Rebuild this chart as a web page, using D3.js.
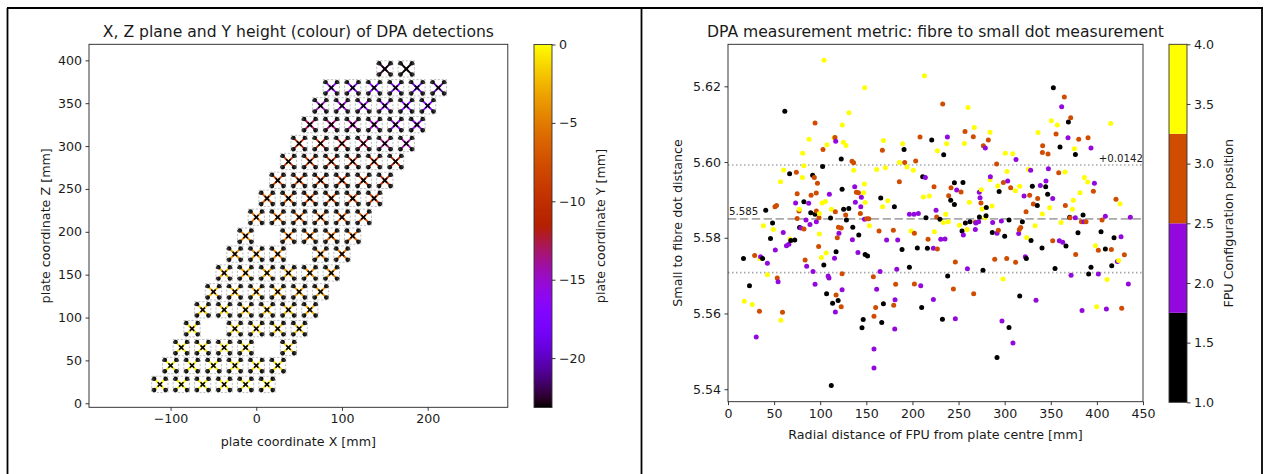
<!DOCTYPE html>
<html><head><meta charset="utf-8">
<script src="https://cdn.jsdelivr.net/npm/d3@7"></script>
<style>
body{margin:0;background:#fff}
text{font-family:"DejaVu Sans",sans-serif;fill:#1a1a1a}
</style>
</head><body><svg id="c" width="1265" height="474"></svg>
<script>
// ---------------- DATA ----------------
// Left panel: FPU centres on the plate (rows of a hex grid), X [mm] per row, Z [mm] per row, Y height [mm]
const fpuRowZ = [22, 44, 65, 87, 109, 130, 152, 174, 195, 217, 239, 260, 282, 303, 325, 347, 368, 390];
const fpuRowX = [
  [-112.5,-87.5,-62.5,-37.5,-12.5,12.5],
  [-100,-75,-50,-25,0,25],
  [-87.5,-62.5,-37.5,-12.5,37.5],
  [-75,-25,0,25,50],
  [-62.5,-37.5,-12.5,12.5,37.5,62.5],
  [-50,-25,0,25,50,75],
  [-37.5,-12.5,12.5,37.5,62.5,87.5],
  [-25,0,25,75,100],
  [-12.5,37.5,62.5,87.5,112.5],
  [0,25,50,75,100,125],
  [12.5,37.5,62.5,87.5,112.5,137.5],
  [25,50,75,100,125,150],
  [37.5,62.5,87.5,112.5,137.5,162.5],
  [50,75,100,125,150,175],
  [62.5,87.5,112.5,137.5,162.5,187.5],
  [75,100,125,150,175,200],
  [87.5,112.5,137.5,162.5,187.5,212.5],
  [150,175]
];
const fpuRowY = [
  [-0.3,-0.4,-0.5,-0.6,-0.7,-0.8],
  [-0.5,-0.6,-0.7,-0.8,-1.0,-1.1],
  [-0.9,-1.0,-1.1,-1.3,-1.6],
  [-1.3,-1.6,-1.8,-2.0,-2.2],
  [-1.8,-2.0,-2.2,-2.4,-2.7,-2.9],
  [-2.4,-2.6,-2.9,-3.1,-3.4,-3.7],
  [-3.1,-3.3,-3.6,-3.9,-4.2,-4.5],
  [-3.9,-4.2,-4.5,-5.1,-5.5],
  [-4.8,-5.4,-5.8,-6.1,-6.5],
  [-5.8,-6.1,-6.5,-6.9,-7.3,-7.7],
  [-6.8,-7.2,-7.6,-8.0,-8.4,-8.9],
  [-8.0,-8.4,-8.8,-9.3,-9.8,-10.3],
  [-9.0,-9.4,-9.9,-10.4,-11.0,-11.6],
  [-11.0,-11.5,-12.0,-12.7,-13.5,-14.3],
  [-13.0,-13.5,-14.0,-14.6,-15.2,-15.8],
  [-14.6,-15.1,-15.7,-16.3,-16.9,-17.5],
  [-16.0,-16.7,-17.4,-18.1,-18.9,-20.5],
  [-22.5,-23.1]
];
const leftXTicks = [-100, 0, 100, 200];
const leftYTicks = [0, 50, 100, 150, 200, 250, 300, 350, 400];
const leftCbTicks = [0, -5, -10, -15, -20];
const leftCbRange = [-23.15, 0];

// Right panel: [radial distance mm, small-to-fibre dot distance] per FPU configuration position
const config1Points = [[16.8,5.5745],[23.3,5.5673],[37.5,5.5745],[40.9,5.5873],[46.1,5.5798],[48.3,5.5839],[61.6,5.6134],[66.8,5.5969],[68.1,5.5793],[72.4,5.5794],[77.6,5.5827],[82.3,5.5895],[89.7,5.5866],[91.8,5.5965],[94.4,5.5862],
[102.6,5.5988],[103.9,5.5728],[106.9,5.5652],[111.2,5.5852],[112,5.541],[113.4,5.5627],[117.2,5.5763],[119.4,5.5634],[122.8,5.6008],[123.7,5.5928],[125.4,5.5875],[128.4,5.5847],[131,5.5877],[135.3,5.5828],[141.8,5.5807],[145.3,5.5562],[146.6,5.5584],[148.7,5.5756],[151.3,5.5752],[165.6,5.5905],[166.7,5.5576],[168.5,5.5626],[180.4,5.5882],[188.7,5.5769],[190.9,5.6033],[196.7,5.5722],
[205.3,5.5773],[210,5.5616],[211.1,5.5961],[214.7,5.5853],[216.2,5.5772],[220.9,5.6058],[229.9,5.5849],[232.5,5.5585],[233.9,5.6019],[238.2,5.5699],[241.5,5.5899],[245.5,5.5945],[245.5,5.5888],[253.8,5.5818],[254.8,5.5946],[257.4,5.5839],[262.4,5.5842],[272.6,5.5855],[276.5,5.5714],[279.8,5.5858],[280.1,5.588],[286.6,5.5814],[291.7,5.5484],[294,5.5922],
[300,5.5804],[304.7,5.5847],[304.7,5.5563],[316.3,5.5646],[319.2,5.5842],[323.5,5.5745],[328.6,5.5793],[330,5.5936],[335.4,5.5885],[340.5,5.5773],[344.5,5.5935],[346.6,5.5915],[352.8,5.6196],[354.6,5.5719],[360,5.604],[366.5,5.5778],[369.1,5.6106],[370.5,5.5854],[376.7,5.602],[379.5,5.5813],[385,5.586],[391.1,5.5704],[393.6,5.5722],[404.5,5.5816],[409.2,5.577],[416.1,5.5726],[418.6,5.58]];
const config2Points = [[30.6,5.5538],[35.3,5.575],[42.7,5.5733],[51.3,5.5768],[54.3,5.5684],[59.9,5.5814],[63.4,5.5779],[66,5.5783],[73.3,5.5892],[79,5.5826],[84.6,5.5847],[85.3,5.5725],[87.5,5.5891],[88.9,5.5835],[92.2,5.5711],[94.4,5.5677],[95.8,5.5842],
[108.6,5.5699],[109.5,5.5694],[109.9,5.5915],[115.5,5.5746],[116.4,5.5604],[116.8,5.6055],[120.3,5.5812],[123.7,5.5663],[134.9,5.5795],[137.4,5.5935],[138.1,5.5894],[140.9,5.5761],[144,5.5882],[144.6,5.5907],[148,5.5849],[158.3,5.5506],[158.3,5.5456],[161.2,5.5664],[164.9,5.5711],[172,5.5794],[180.8,5.5559],[181.1,5.5636],[183,5.5717],[184,5.5794],[196.7,5.5862],[201.7,5.5862],[206.4,5.5864],
[209,5.5673],[214,5.5959],[222.7,5.5772],[222.7,5.5637],[225.6,5.5873],[230.7,5.5796],[235.3,5.5797],[237.9,5.6066],[246.5,5.5586],[248,5.5926],[255.2,5.5807],[259.6,5.5718],[268.2,5.5822],[268.9,5.5839],[271.8,5.5842],[272.5,5.592],[273.3,5.5906],[279,5.6037],[284.5,5.5961],[287,5.584],[291.7,5.5812],[296.4,5.5844],[297.1,5.558],
[303.3,5.595],[309,5.5522],[312.3,5.6007],[315.2,5.5811],[321,5.591],[322.4,5.575],[328.2,5.5978],[334,5.5635],[338.7,5.5938],[344.8,5.595],[347.4,5.5982],[352.1,5.5904],[359.3,5.5792],[361.8,5.6146],[362.9,5.5788],[368.7,5.6064],[372,5.5701],[376.6,5.5853],[383.9,5.5608],[386,5.5842],[393.6,5.6037],[397.3,5.5944],[401.6,5.5704],[409.2,5.5857],[410.3,5.5612],[422.2,5.5737],[426.2,5.5803],[434.1,5.5678],[436.3,5.5854]];
const config3Points = [[28.9,5.5753],[34.1,5.5606],[50.9,5.5882],[52.6,5.5885],[53.4,5.5694],[59.1,5.5603],[74.1,5.5973],[75,5.5916],[75,5.5851],[77,5.5871],[82.4,5.5823],[83.6,5.5741],[90.1,5.5912],[93.6,5.5959],[94.4,5.6103],[95.7,5.5918],[95.8,5.5871],[97,5.5944],[98.3,5.5777],[98.7,5.5853],
[103,5.6033],[116,5.6065],[116.4,5.5869],[117.2,5.5649],[118.5,5.58],[119.8,5.5828],[122.8,5.5826],[123.7,5.5705],[122.8,5.5618],[127.6,5.586],[134.5,5.6002],[136.2,5.5998],[139.2,5.592],[141.4,5.5919],[143.5,5.5864],[150.4,5.585],[152.6,5.585],[157.6,5.5697],[158.3,5.5593],[160.1,5.5616],[163.8,5.5818],[167.4,5.6031],[179.3,5.582],[179.7,5.5622],[181.8,5.5677],[185.8,5.5948],[191.6,5.5999],
[202.1,5.5678],[202.1,5.5812],[203.5,5.6003],[208.2,5.6066],[216.9,5.5796],[223.4,5.5935],[226.3,5.5855],[227,5.577],[232.8,5.6153],[239.3,5.5911],[241.8,5.5932],[244.4,5.5665],[246.5,5.5736],[252.7,5.5921],[257,5.6081],[266,5.6067],[266.4,5.5652],[268.2,5.5841],[274.3,5.5892],[276.9,5.6043],[282.3,5.6058],[289.2,5.5743],[291.3,5.5995],[293.2,5.582],[298.6,5.5946],
[302.2,5.5745],[306.5,5.5932],[311.9,5.5735],[315.9,5.5822],[317.4,5.5827],[323.2,5.5869],[327.1,5.5912],[331.1,5.5889],[335.8,5.5904],[340.9,5.6025],[341.2,5.6043],[347,5.6021],[352.1,5.5792],[355.7,5.6074],[358.6,5.5972],[364.7,5.6172],[365.8,5.5885],[370.9,5.5853],[371.6,5.6117],[377,5.5756],[380.3,5.606],[383.2,5.5842],[388.2,5.5842],[390.4,5.6064],[396.2,5.5923],[401.6,5.5767],[405.6,5.5847],[415.7,5.5769],[420.7,5.5902],[426.9,5.5614],[429.8,5.5755]];
const config4Points = [[17.7,5.5632],[26.3,5.5624],[34.5,5.5745],[38.4,5.5832],[42.7,5.5702],[49.2,5.5822],[56.9,5.5948],[57.3,5.5582],[60.3,5.5979],[67.2,5.5797],[77.4,5.5875],[80.6,5.5959],[81,5.6023],[82.3,5.599],[87.9,5.606],[99.1,5.5864],[99.1,5.581],[102,5.5892],[105.6,5.5896],
[101.3,5.5748],[104.1,5.6269],[107.3,5.6046],[106.5,5.576],[112.1,5.5875],[115,5.6064],[124,5.6098],[125.1,5.6052],[128,5.6044],[131.2,5.613],[136.3,5.5978],[147.9,5.5942],[147.1,5.5919],[148.7,5.5893],[148.2,5.6196],[153.4,5.5832],[161.2,5.598],[167.7,5.5882],[168.5,5.6057],[170.6,5.5985],[173.2,5.5898],[185.8,5.5999],[189.4,5.6048],[194.1,5.5987],[198.5,5.5818],
[201,5.5978],[211.8,5.5908],[213,5.6228],[218.3,5.591],[223.8,5.5816],[227,5.603],[233.5,5.584],[236.1,5.5862],[237.1,5.6048],[238.9,5.5842],[250.9,5.5833],[256.3,5.6049],[259.2,5.5822],[260.3,5.6144],[261.7,5.5894],[267.1,5.6091],[274.7,5.5927],[275.5,5.5876],[278.7,5.5853],[284.1,5.6079],[284.1,5.5953],[286.3,5.5884],[292.5,5.5937],[298.2,5.5691],
[300.7,5.6023],[302.5,5.5975],[308.7,5.6022],[311.6,5.5924],[316.3,5.5936],[323.9,5.5801],[325.7,5.598],[332.9,5.5832],[336.2,5.6078],[340.9,5.5863],[348.8,5.5879],[350.6,5.6109],[357.1,5.6098],[361.1,5.584],[365.4,5.5974],[373.4,5.5875],[374.5,5.5899],[375.6,5.6035],[381.7,5.5919],[386.4,5.5959],[390,5.5947],[398.3,5.5779],[399.8,5.5618],[411,5.569],[415,5.6102],[423.6,5.574],[425.1,5.589]];
const meanDistance = 5.585;
const spreadOffset = 0.0142;
const rightXTicks = [0, 50, 100, 150, 200, 250, 300, 350, 400, 450];
const rightYTicks = [5.54, 5.56, 5.58, 5.60, 5.62];
const rightCbTicks = [1.0, 1.5, 2.0, 2.5, 3.0, 3.5, 4.0];
const configLevels = [1, 2, 3, 4];

// ---------------- HELPERS ----------------
function gnuplot(t) {
  t = Math.max(0, Math.min(1, t));
  const r = Math.sqrt(t), g = t * t * t, b = Math.max(0, Math.sin(2 * Math.PI * t));
  return d3.rgb(Math.round(r * 255), Math.round(g * 255), Math.round(b * 255)).formatHex();
}
const svg = d3.select("#c");
const TICK = 12.6, TITLE = 15.6, LABEL = 12.7;

function styleAxis(g) {
  g.select(".domain").remove();
  g.selectAll(".tick line").attr("stroke", "#222").attr("stroke-width", 0.9);
  g.selectAll(".tick text").attr("font-size", TICK).attr("fill", "#1a1a1a").attr("font-family", "DejaVu Sans");
}

// ---------------- FRAME ----------------
const frame = svg.append("g").attr("stroke", "#000").attr("stroke-width", 1.8);
frame.append("line").attr("x1", 7).attr("x2", 1263).attr("y1", 8).attr("y2", 8);
frame.append("line").attr("x1", 7.5).attr("x2", 7.5).attr("y1", 8).attr("y2", 474);
frame.append("line").attr("x1", 641.5).attr("x2", 641.5).attr("y1", 8).attr("y2", 474);
frame.append("line").attr("x1", 1262).attr("x2", 1262).attr("y1", 8).attr("y2", 474);

// ---------------- LEFT PANEL ----------------
const L = {x0: 89, x1: 507.8, y0: 44.3, y1: 407.3};
const xL = d3.scaleLinear().domain([-195.2, 293.5]).range([L.x0, L.x1]);
const yL = d3.scaleLinear().domain([-4.7, 418.7]).range([L.y1, L.y0]);
const cL = d3.scaleLinear().domain(leftCbRange).range([0, 1]);

const fpus = [];
fpuRowX.forEach((row, r) => row.forEach((x, c) => fpus.push({x, z: fpuRowZ[r], y: fpuRowY[r][c]})));

const gL = svg.append("g");
const boxHalf = 9.5, cornerOff = 6.6;
const glyph = gL.selectAll("g.fpu").data(fpus).join("g").attr("class", "fpu");
glyph.append("rect")
  .attr("x", d => xL(d.x - boxHalf)).attr("y", d => yL(d.z + boxHalf))
  .attr("width", d => xL(d.x + boxHalf) - xL(d.x - boxHalf))
  .attr("height", d => yL(d.z - boxHalf) - yL(d.z + boxHalf))
  .attr("fill", "none").attr("stroke", "#b8b8b8").attr("stroke-width", 0.9).attr("stroke-dasharray", "2.2,1.6");
const diag = [[-1,-1,1,1],[-1,1,1,-1]];
diag.forEach(([a,b,c,e]) => {
  glyph.append("line")
    .attr("x1", d => xL(d.x + a*cornerOff)).attr("y1", d => yL(d.z + b*cornerOff))
    .attr("x2", d => xL(d.x + c*cornerOff)).attr("y2", d => yL(d.z + e*cornerOff))
    .attr("stroke", d => gnuplot(cL(d.y))).attr("stroke-width", 1.9);
});
[[-1,-1],[-1,1],[1,-1],[1,1]].forEach(([a,b]) => {
  glyph.append("circle")
    .attr("cx", d => xL(d.x + a*cornerOff)).attr("cy", d => yL(d.z + b*cornerOff))
    .attr("r", 2.2).attr("fill", "#111");
  glyph.append("circle")
    .attr("cx", d => xL(d.x + a*(cornerOff+1.5))).attr("cy", d => yL(d.z + b*(cornerOff-0.5)))
    .attr("r", 1.3).attr("fill", "#333");
});
const cx = 2.2;
diag.forEach(([a,b,c,e]) => {
  glyph.append("line")
    .attr("x1", d => xL(d.x) + a*cx).attr("y1", d => yL(d.z) + b*cx)
    .attr("x2", d => xL(d.x) + c*cx).attr("y2", d => yL(d.z) + e*cx)
    .attr("stroke", "#000").attr("stroke-width", 1.6);
});

gL.append("rect").attr("x", L.x0).attr("y", L.y0).attr("width", L.x1 - L.x0).attr("height", L.y1 - L.y0)
  .attr("fill", "none").attr("stroke", "#222").attr("stroke-width", 0.9);
gL.append("g").attr("transform", `translate(0,${L.y1})`)
  .call(d3.axisBottom(xL).tickValues(leftXTicks).tickSize(3.5).tickPadding(3.5)).call(styleAxis);
gL.append("g").attr("transform", `translate(${L.x0},0)`)
  .call(d3.axisLeft(yL).tickValues(leftYTicks).tickSize(3.5).tickPadding(3.5)).call(styleAxis);

svg.append("text").attr("x", (L.x0 + L.x1) / 2).attr("y", 31.5).attr("text-anchor", "middle")
  .attr("dominant-baseline", "central").attr("font-size", TITLE)
  .text("X, Z plane and Y height (colour) of DPA detections");
svg.append("text").attr("x", (L.x0 + L.x1) / 2).attr("y", 441.5).attr("text-anchor", "middle")
  .attr("dominant-baseline", "central").attr("font-size", LABEL).text("plate coordinate X [mm]");
svg.append("text").attr("transform", `translate(45,${(L.y0 + L.y1) / 2}) rotate(-90)`).attr("text-anchor", "middle")
  .attr("dominant-baseline", "central").attr("font-size", LABEL).text("plate coordinate Z [mm]");

// left colorbar
const CB1 = {x0: 534, x1: 552, y0: 44.5, y1: 407.5};
const yCb1 = d3.scaleLinear().domain(leftCbRange).range([CB1.y1, CB1.y0]);
const defs = svg.append("defs");
const grad = defs.append("linearGradient").attr("id", "gp").attr("x1", 0).attr("x2", 0).attr("y1", 1).attr("y2", 0);
d3.range(0, 1.0001, 0.02).forEach(t => grad.append("stop").attr("offset", t).attr("stop-color", gnuplot(t)));
svg.append("rect").attr("x", CB1.x0).attr("y", CB1.y0).attr("width", CB1.x1 - CB1.x0).attr("height", CB1.y1 - CB1.y0)
  .attr("fill", "url(#gp)").attr("stroke", "#333").attr("stroke-width", 0.9);
svg.append("g").attr("transform", `translate(${CB1.x1},0)`)
  .call(d3.axisRight(yCb1).tickValues(leftCbTicks).tickSize(3.5).tickPadding(3.5)).call(styleAxis);
svg.append("text").attr("transform", `translate(600,${(CB1.y0 + CB1.y1) / 2}) rotate(-90)`).attr("text-anchor", "middle")
  .attr("dominant-baseline", "central").attr("font-size", LABEL).text("plate coordinate Y [mm]");

// ---------------- RIGHT PANEL ----------------
const R = {x0: 728, x1: 1143, y0: 44.3, y1: 401.7};
const xR = d3.scaleLinear().domain([0, 450]).range([R.x0, R.x1]);
const yR = d3.scaleLinear().domain([5.5367, 5.6311]).range([R.y1, R.y0]);
const cR = d3.scaleLinear().domain([1, 4]).range([0, 1]);
const gR = svg.append("g");

const hl = [
  {v: meanDistance + spreadOffset, dash: "1.5,2.5"},
  {v: meanDistance, dash: "8.3,3.6"},
  {v: meanDistance - spreadOffset, dash: "1.5,2.5"}
];
gR.selectAll("line.h").data(hl).join("line").attr("class", "h")
  .attr("x1", R.x0).attr("x2", R.x1).attr("y1", d => yR(d.v)).attr("y2", d => yR(d.v))
  .attr("stroke", "#a8a8a8").attr("stroke-width", 1.6).attr("stroke-dasharray", d => d.dash);

const allPts = [];
[config1Points, config2Points, config3Points, config4Points].forEach((arr, i) =>
  arr.forEach(p => allPts.push({r: p[0], d: p[1], c: configLevels[i]})));
allPts.sort((a, b) => a.r - b.r);
gR.selectAll("circle").data(allPts).join("circle")
  .attr("cx", d => xR(d.r)).attr("cy", d => yR(d.d)).attr("r", 2.5)
  .attr("fill", d => gnuplot(cR(d.c)));

gR.append("text").attr("x", R.x0 + 1).attr("y", yR(meanDistance) - 3.5).attr("font-size", 10.2).attr("fill", "#333")
  .text(d3.format(".3f")(meanDistance));
gR.append("text").attr("x", R.x1).attr("y", yR(meanDistance + spreadOffset) - 3.5).attr("text-anchor", "end")
  .attr("font-size", 10.2).attr("fill", "#333").text("+" + d3.format(".4f")(spreadOffset));

gR.append("rect").attr("x", R.x0).attr("y", R.y0).attr("width", R.x1 - R.x0).attr("height", R.y1 - R.y0)
  .attr("fill", "none").attr("stroke", "#222").attr("stroke-width", 0.9);
gR.append("g").attr("transform", `translate(0,${R.y1})`)
  .call(d3.axisBottom(xR).tickValues(rightXTicks).tickSize(3.5).tickPadding(3.5)).call(styleAxis);
gR.append("g").attr("transform", `translate(${R.x0},0)`)
  .call(d3.axisLeft(yR).tickValues(rightYTicks).tickFormat(d3.format(".2f")).tickSize(3.5).tickPadding(3.5)).call(styleAxis);

svg.append("text").attr("x", (R.x0 + R.x1) / 2).attr("y", 31.5).attr("text-anchor", "middle")
  .attr("dominant-baseline", "central").attr("font-size", TITLE)
  .text("DPA measurement metric: fibre to small dot measurement");
svg.append("text").attr("x", (R.x0 + R.x1) / 2).attr("y", 434.5).attr("text-anchor", "middle")
  .attr("dominant-baseline", "central").attr("font-size", LABEL).text("Radial distance of FPU from plate centre [mm]");
svg.append("text").attr("transform", `translate(677,${(R.y0 + R.y1) / 2}) rotate(-90)`).attr("text-anchor", "middle")
  .attr("dominant-baseline", "central").attr("font-size", LABEL).text("Small to fibre dot distance");

// right colorbar (discrete, 4 levels)
const CB2 = {x0: 1169, x1: 1187, y0: 44.3, y1: 402.3};
const yCb2 = d3.scaleLinear().domain([1, 4]).range([CB2.y1, CB2.y0]);
const binW = 3 / configLevels.length;
svg.append("g").selectAll("rect").data(configLevels).join("rect")
  .attr("x", CB2.x0).attr("width", CB2.x1 - CB2.x0)
  .attr("y", (d, i) => yCb2(1 + binW * (i + 1))).attr("height", (d, i) => yCb2(1 + binW * i) - yCb2(1 + binW * (i + 1)))
  .attr("fill", d => gnuplot(cR(d)));
svg.append("rect").attr("x", CB2.x0).attr("y", CB2.y0).attr("width", CB2.x1 - CB2.x0).attr("height", CB2.y1 - CB2.y0)
  .attr("fill", "none").attr("stroke", "#333").attr("stroke-width", 0.9);
svg.append("g").attr("transform", `translate(${CB2.x1},0)`)
  .call(d3.axisRight(yCb2).tickValues(rightCbTicks).tickFormat(d3.format(".1f")).tickSize(3.5).tickPadding(3.5)).call(styleAxis);
svg.append("text").attr("transform", `translate(1228,${(CB2.y0 + CB2.y1) / 2}) rotate(-90)`).attr("text-anchor", "middle")
  .attr("dominant-baseline", "central").attr("font-size", LABEL).text("FPU Configuration position");
</script></body></html>
